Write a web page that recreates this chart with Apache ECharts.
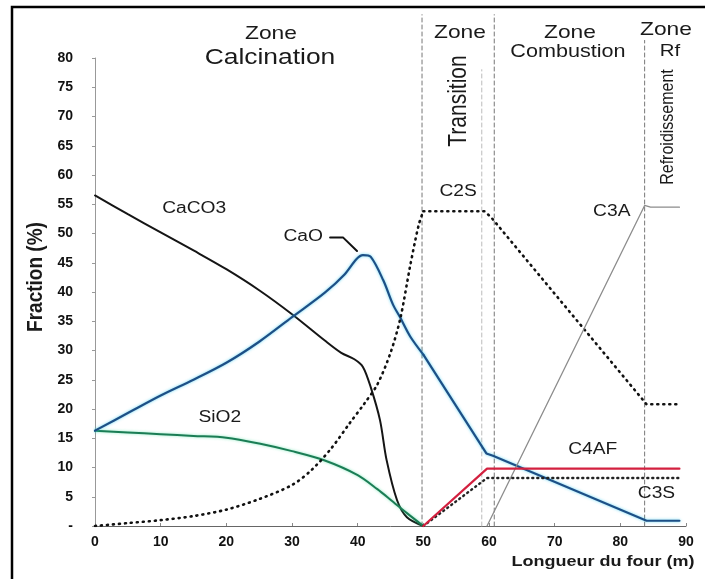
<!DOCTYPE html>
<html>
<head>
<meta charset="utf-8">
<script src="https://cdn.jsdelivr.net/npm/echarts@6/dist/echarts.min.js"></script>
<style>
  html, body { margin: 0; padding: 0; background: #fff; }
  #chart { width: 705px; height: 579px; }
</style>
</head>
<body>
<div id="chart"></div>
<script>
(function () {
  "use strict";

  // ── Data (x = longueur du four en m, y = fraction %) ──
  var caco3 = [[0, 56.5], [5, 53.3], [10, 50.2], [15, 47.1], [20, 43.9], [25, 40.3], [30, 36.2], [35, 31.7],
    [37.5, 29.6], [39.5, 28.5], [40.8, 27.2], [42, 23.7], [43.4, 18.1], [44.4, 11.3], [46, 4.4], [47.5, 1.5], [50, 0]];
  var caoCurve = [[0, 16.3], [5, 19.3], [10, 22.3], [15, 25], [20, 27.9], [25, 31.5], [30, 35.7], [35, 39.9],
    [38, 43], [39.8, 45.6], [40.8, 46.3], [42, 46], [43.9, 42], [45.4, 37.8], [46.4, 35.8], [48, 32.4], [50, 29.3]];
  var caoLine = [[50, 29.3], [59.6, 12.4], [60.6, 12], [84, 0.9], [89, 0.9]];
  var sio2 = [[0, 16.3], [5, 16], [10, 15.7], [15, 15.4], [20, 15.1], [25, 14.1], [30, 12.8], [35, 11.2],
    [40, 8.7], [43, 6.3], [45, 4.5], [47.5, 2.2], [50, 0]];
  var c2sCurve = [[0, 0], [5, 0.5], [10, 1], [15, 1.7], [20, 2.8], [25, 4.6], [30, 7], [33, 9.6], [36, 13.3],
    [38.8, 17.6], [41, 20.9], [43, 24.2], [45, 29.6], [46.5, 35.5], [48, 44.5], [49.3, 51.5], [50, 53.8]];
  var c2sLine = [[50, 53.8], [59.3, 53.8], [60.3, 52.8], [84, 20.8], [89, 20.8]];
  var c4af = [[50, 0], [59.7, 9.8], [89, 9.8]];
  var c3s = [[50, 0], [59.7, 8.2], [89, 8.2]];
  var c3a = [[59.7, 0], [83.7, 54.8], [84.6, 54.5], [89, 54.5]];
  var caoLeader = [[35.8, 49.3], [37.8, 49.3], [39.9, 47]];

  // zone dividers: x position and top (in y units)
  var zoneX = [49.8, 58.9, 60.8, 83.7, 90.4];
  var zoneTop = [87.4, 78, 87.4, 83, 83];
  var zoneColor = ["#777", "#bbb", "#777", "#777", "#777"];

  var curveNames = ["CaCO3", "CaO", "SiO2", "C2S", "C3A", "C4AF", "C3S"];
  var curveLabelAt = [[15.1, 54.2], [31.7, 49.5], [19, 18.5], [55.3, 57.2], [78.7, 53.8], [75.8, 13], [85.5, 5.5]];

  var X_MIN = 0, X_MAX = 90, X_STEP = 10;
  var Y_MIN = 0, Y_MAX = 80, Y_STEP = 5;

  var FONT = "'Liberation Sans', Arial, Helvetica, sans-serif";
  var STRETCH = 1.2;

  var chart = echarts.init(document.getElementById("chart"), null, { renderer: "canvas" });

  function line(name, data, color, width, type, smooth, extra) {
    var s = {
      name: name,
      type: "line",
      data: data,
      smooth: smooth ? 0.3 : false,
      symbol: "none",
      silent: true,
      animation: false,
      lineStyle: { color: color, width: width, type: type || "solid", cap: "round" },
      z: 3
    };
    if (extra) for (var k in extra) s[k] = extra[k];
    return s;
  }

  var series = [];

  // ── Zone dividers ──
  for (var i = 0; i < zoneX.length; i++) {
    series.push(line("zone" + i, [[zoneX[i], 0], [zoneX[i], zoneTop[i]]], zoneColor[i], 1, [4, 3], false,
      { clip: false, z: 1 }));
  }

  var blueGlow = { shadowColor: "rgba(40,200,240,0.7)", shadowBlur: 3 };
  var greenGlow = { shadowColor: "rgba(60,220,150,0.6)", shadowBlur: 3 };

  series.push(line("CaCO3", caco3, "#151515", 2, "solid", true));
  series.push(line("SiO2", sio2, "#1b7d55", 2, "solid", true));
  series.push(line("CaO", caoCurve, "#1d4f86", 2.2, "solid", true));
  series.push(line("CaO", caoLine, "#1d4f86", 2.2, "solid", false));
  series.push(line("C2S", c2sCurve, "#111", 2.6, [1, 5], true));
  series.push(line("C2S", c2sLine, "#111", 2.6, [1, 5], false));
  series.push(line("C3A", c3a, "#8c8c8c", 1.3, "solid", false));
  series.push(line("C3S", c3s, "#222", 2.4, [1, 4], false));
  series.push(line("C4AF", c4af, "#d3203f", 2.2, "solid", false, { z: 4 }));
  series.push(line("leader", caoLeader, "#111", 2, "solid", false, { clip: false }));

  for (var s = 0; s < series.length; s++) {
    if (series[s].name === "CaO") for (var g in blueGlow) series[s].lineStyle[g] = blueGlow[g];
    if (series[s].name === "SiO2") for (var h in greenGlow) series[s].lineStyle[h] = greenGlow[h];
  }

  chart.setOption({
    backgroundColor: "#fff",
    animation: false,
    grid: { left: 95, top: 58, width: 591, height: 468, outerBoundsMode: "none", containLabel: false },
    xAxis: {
      type: "value",
      min: X_MIN, max: X_MAX, interval: X_STEP,
      axisLine: { show: true, lineStyle: { color: "#666", width: 1 } },
      axisTick: { show: true, inside: true, length: 3, lineStyle: { color: "#888" } },
      axisLabel: { color: "#111", fontFamily: FONT, fontWeight: "bold", fontSize: 14, margin: 9 },
      splitLine: { show: false }
    },
    yAxis: {
      type: "value",
      min: Y_MIN, max: Y_MAX, interval: Y_STEP,
      axisLine: { show: true, lineStyle: { color: "#999", width: 1 } },
      axisTick: { show: true, length: 3, lineStyle: { color: "#999" } },
      axisLabel: {
        color: "#111", fontFamily: FONT, fontWeight: "bold", fontSize: 14, margin: 22,
        formatter: function (v) { return v === 0 ? "-" : String(v); }
      },
      splitLine: { show: false }
    },
    series: series
  });

  // ── Annotations (stretched text like the scanned figure) ──
  function text(x, y, str, size, weight, rot) {
    var el = {
      type: "text",
      x: x, y: y,
      silent: true,
      z: 10,
      style: {
        text: str,
        font: (weight || "normal") + " " + size + "px " + FONT,
        fill: "#1a1a1a",
        textAlign: "center", textVerticalAlign: "middle",
        align: "center", verticalAlign: "middle"
      }
    };
    if (rot) {
      el.rotation = Math.PI / 2;
      el.scaleY = STRETCH;
    } else {
      el.scaleX = STRETCH;
    }
    return el;
  }

  var graphics = [
    {
      type: "rect", silent: true, z: 0,
      shape: { x: 12, y: 7, width: 720, height: 620 },
      style: { fill: "none", stroke: "#000", lineWidth: 2.5 }
    },
    text(271, 34, "Zone", 19),
    text(270, 58, "Calcination", 22),
    text(460, 33, "Zone", 19),
    text(459, 101, "Transition", 21, null, true),
    text(570, 33, "Zone", 19),
    text(568, 52, "Combustion", 18),
    text(666, 30, "Zone", 19),
    text(670, 51, "Rf", 17),
    text(668, 127, "Refroidissement", 16, null, true),
    text(36, 277, "Fraction (%)", 19, "bold", true),
    text(603, 562, "Longueur du four (m)", 15, "bold")
  ];

  for (var c = 0; c < curveNames.length; c++) {
    var p = chart.convertToPixel({ gridIndex: 0 }, curveLabelAt[c]);
    graphics.push(text(p[0], p[1], curveNames[c], 16));
  }

  chart.setOption({ graphic: graphics });
})();
</script>
</body>
</html>
